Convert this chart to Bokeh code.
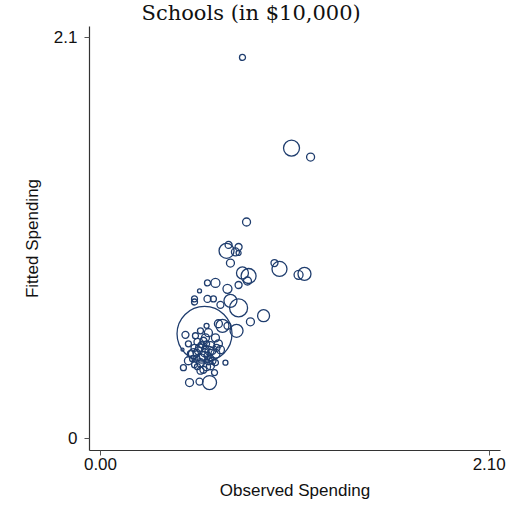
from bokeh.plotting import figure
from bokeh.models import Range1d, FixedTicker, ColumnDataSource
from bokeh.embed import file_html
from bokeh.resources import INLINE
import numpy as np

title_text = "Schools (in $10,000)"
x_label = "Observed Spending"
y_label = "Fitted Spending"
x_ticks = [0.0, 2.1]
x_tick_labels = ["0.00", "2.10"]
y_ticks = [0.0, 2.1]
y_tick_labels = ["0", "2.1"]

observed = [0.767, 1.032, 1.135, 0.789, 0.681, 0.692, 0.746, 0.729, 0.746, 0.702,
            0.767, 0.800, 0.794, 0.746, 0.940, 0.967, 1.070, 1.102, 0.578, 0.621,
            0.686, 0.535, 0.508, 0.508, 0.578, 0.610, 0.648, 0.702, 0.746, 0.881,
            0.810, 0.735, 0.659, 0.686, 0.562, 0.459, 0.443, 0.448, 0.675, 0.481,
            0.535, 0.589, 0.616, 0.475, 0.513, 0.540, 0.573, 0.583, 0.556, 0.621,
            0.637, 0.475, 0.502, 0.583, 0.621, 0.637, 0.529, 0.556, 0.540, 0.567,
            0.594, 0.519, 0.573, 0.605, 0.546, 0.508, 0.594, 0.556, 0.648, 0.486,
            0.524, 0.621, 0.535, 0.562, 0.589, 0.519, 0.546, 0.578, 0.605, 0.524,
            0.567, 0.497, 0.594, 0.540, 0.508, 0.627, 0.573]
fitted = [1.995, 1.520, 1.473, 1.133, 0.982, 1.013, 1.002, 0.976, 0.971, 0.918,
          0.866, 0.850, 0.824, 0.803, 0.918, 0.887, 0.856, 0.861, 0.814, 0.814,
          0.783, 0.772, 0.730, 0.714, 0.730, 0.730, 0.699, 0.720, 0.683, 0.642,
          0.610, 0.563, 0.589, 0.589, 0.547, 0.542, 0.464, 0.370, 0.396, 0.292,
          0.297, 0.292, 0.344, 0.495, 0.537, 0.563, 0.589, 0.553, 0.511, 0.526,
          0.600, 0.406, 0.443, 0.406, 0.443, 0.495, 0.458, 0.432, 0.396, 0.469,
          0.485, 0.417, 0.375, 0.458, 0.490, 0.474, 0.422, 0.359, 0.464, 0.443,
          0.375, 0.396, 0.474, 0.448, 0.458, 0.448, 0.417, 0.432, 0.406, 0.505,
          0.526, 0.417, 0.380, 0.354, 0.385, 0.474, 0.495]
enrollment = [1.44, 10.24, 2.56, 2.56, 9.00, 1.96, 1.96, 2.56, 1.00, 2.56,
              5.76, 9.00, 2.56, 1.96, 1.96, 9.00, 3.24, 6.76, 1.44, 3.24,
              3.24, 0.64, 1.44, 1.44, 1.96, 1.44, 1.96, 6.76, 12.96, 5.76,
              2.56, 6.76, 6.76, 1.96, 121.0, 1.96, 0.36, 1.44, 1.00, 2.56,
              1.96, 7.84, 1.44, 1.44, 1.44, 1.44, 1.00, 2.56, 1.96, 2.56,
              2.56, 2.56, 4.00, 2.56, 3.24, 2.56, 2.56, 3.24, 2.56, 1.96,
              2.56, 1.96, 2.56, 1.96, 1.44, 1.96, 1.44, 1.96, 2.56, 1.44,
              1.44, 1.44, 2.56, 2.56, 3.24, 1.96, 3.24, 1.96, 1.96, 1.96,
              2.56, 1.44, 2.56, 1.96, 1.44, 1.96, 1.44]

size_px = [5.0 * np.sqrt(w) for w in enrollment]
src = ColumnDataSource(dict(x=observed, y=fitted, s=size_px))

p = figure(width=509, height=505, output_backend="svg", toolbar_location=None,
           x_range=Range1d(-0.0594, 2.161), y_range=Range1d(-0.064, 2.157),
           min_border_left=89, min_border_right=9, min_border_top=25,
           min_border_bottom=55, title=title_text)
p.grid.visible = False
p.outline_line_color = None
p.background_fill_color = "white"
p.border_fill_color = "white"

p.title.text_font = "DejaVu Serif"
p.title.text_font_size = "21px"
p.title.text_font_style = "normal"
p.title.text_color = "#111111"
p.title.align = "left"
p.title.offset = 52
p.title.standoff = 0
p.title.vertical_align = "top"

p.scatter("x", "y", size="s", source=src, marker="circle", fill_color=None,
          line_color="#1f3d6e", line_width=1.3)

for ax in (p.xaxis[0], p.yaxis[0]):
    ax.axis_line_color = "#333333"
    ax.axis_line_width = 1.2
    ax.major_tick_line_color = "#555555"
    ax.major_tick_in = 0
    ax.major_tick_out = 5
    ax.minor_tick_line_color = None
    ax.major_label_text_font = "Liberation Sans"
    ax.major_label_text_font_size = "17px"
    ax.major_label_text_color = "#111111"
    ax.axis_label_text_font = "Liberation Sans"
    ax.axis_label_text_font_size = "17px"
    ax.axis_label_text_font_style = "normal"
    ax.axis_label_text_color = "#111111"

p.xaxis[0].ticker = FixedTicker(ticks=x_ticks)
p.xaxis[0].major_label_overrides = dict(zip(x_ticks, x_tick_labels))
p.xaxis[0].axis_label = x_label
p.xaxis[0].major_label_standoff = 2
p.xaxis[0].axis_label_standoff = 8

p.yaxis[0].ticker = FixedTicker(ticks=y_ticks)
p.yaxis[0].major_label_overrides = dict(zip(y_ticks, y_tick_labels))
p.yaxis[0].axis_label = y_label
p.yaxis[0].major_label_standoff = 7
p.yaxis[0].axis_label_standoff = 9

open("out.html", "w").write(file_html(p, INLINE))
